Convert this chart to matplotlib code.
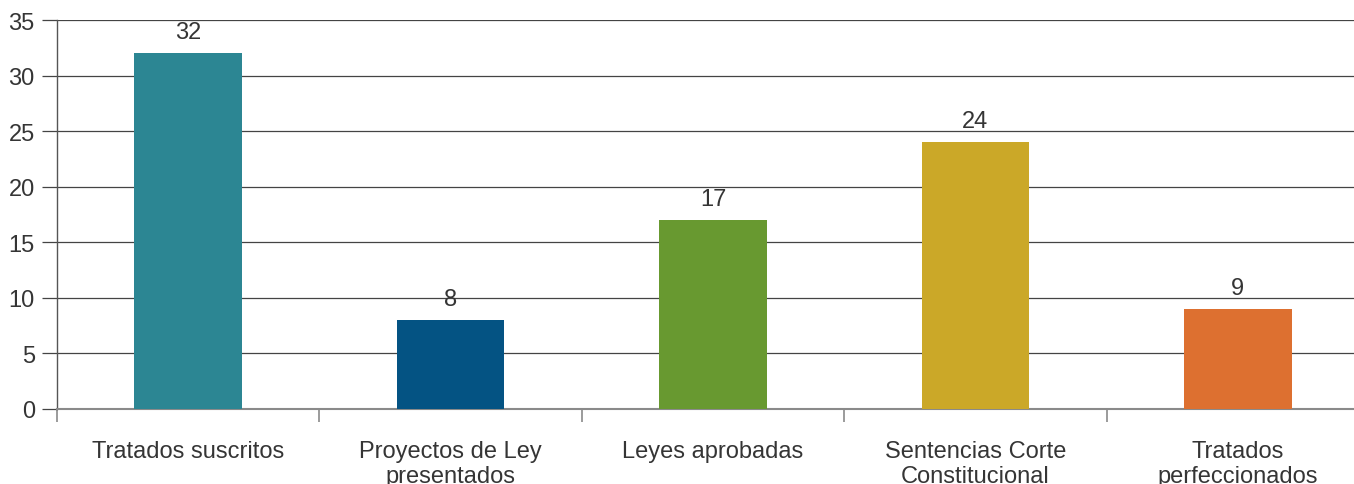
import matplotlib
matplotlib.use("Agg")
import matplotlib.pyplot as plt

categories = ["Tratados suscritos", "Proyectos de Ley\npresentados", "Leyes aprobadas",
              "Sentencias Corte\nConstitucional", "Tratados\nperfeccionados"]
values = [32, 8, 17, 24, 9]
colors = ["#2c8693", "#045383", "#689930", "#cba828", "#dd7030"]
yticks = [0, 5, 10, 15, 20, 25, 30, 35]

plt.rcParams['font.family'] = ['Liberation Sans', 'DejaVu Sans']
txt = '#353535'

fig = plt.figure(figsize=(13.54, 4.85), dpi=100)
W, H = 1354, 485
x0, x1, yb, yt = 57, 1369, 410, 21
ax = fig.add_axes([x0 / W, 1 - yb / H, (x1 - x0) / W, (yb - yt) / H])

xs = list(range(len(categories)))
ax.bar(xs, values, width=0.41, color=colors, zorder=3)
for x, v in zip(xs, values):
    ax.text(x, v + 0.9, str(v), ha='center', va='bottom', fontsize=17, color=txt)

ax.set_xlim(-0.5, len(categories) - 0.5)
ax.set_ylim(0, 35)
ax.set_yticks(yticks)
ax.set_yticklabels([str(t) for t in yticks], fontsize=17, color=txt)
ax.set_xticks(xs)
ax.set_xticklabels(categories, fontsize=17, color=txt, linespacing=1.2)
ax.tick_params(axis='x', length=0, pad=22)
ax.set_xticks([i - 0.5 for i in range(len(categories) + 1)], minor=True)
ax.tick_params(axis='x', which='minor', length=9, width=1.2, color='#8a8a8a')
ax.tick_params(axis='y', length=11, width=0.9, color='#444444', pad=5)
ax.grid(axis='y', color='#444444', linewidth=0.9, zorder=0)
for s in ['top', 'right']:
    ax.spines[s].set_visible(False)
ax.spines['left'].set_color('#555555')
ax.spines['left'].set_linewidth(1.0)
ax.spines['bottom'].set_color('#8a8a8a')
ax.spines['bottom'].set_linewidth(1.5)

fig.savefig('out.png', dpi=100)
